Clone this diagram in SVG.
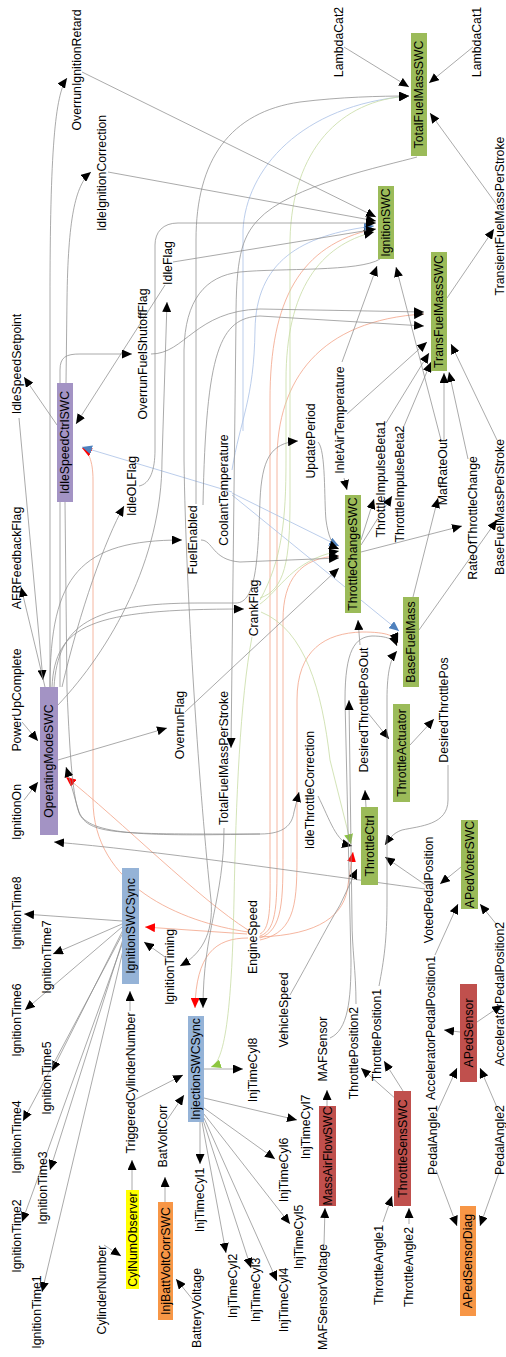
<svg xmlns="http://www.w3.org/2000/svg" width="506" height="1357" viewBox="0 0 506 1357">
<style>
text{font-family:"Liberation Sans",Arial,sans-serif;font-size:12.3px;fill:#000;text-anchor:middle}
.e{fill:none;stroke:#8e8e8e;stroke-width:0.75}
.s{fill:none;stroke:#f2a388;stroke-width:0.8}
.b{fill:none;stroke:#a9c0e6;stroke-width:0.8}
.c{fill:none;stroke:#c8dca4;stroke-width:0.8}
.gr{fill:#9bbb59}.rd{fill:#c0504d}.or{fill:#f79646}.ye{fill:#ffff00}.bl{fill:#95b3d7}.pu{fill:#a393c4}
</style>
<defs>
<marker id="ma" markerUnits="userSpaceOnUse" markerWidth="11" markerHeight="9" refX="10" refY="4.5" orient="auto"><path d="M0,0 L10,4.5 L0,9 z" fill="#000"/></marker>
<marker id="mr" markerUnits="userSpaceOnUse" markerWidth="11" markerHeight="9" refX="10" refY="4.5" orient="auto"><path d="M0,0 L10,4.5 L0,9 z" fill="#ff0000"/></marker>
<marker id="mb" markerUnits="userSpaceOnUse" markerWidth="11" markerHeight="9" refX="10" refY="4.5" orient="auto"><path d="M0,0 L10,4.5 L0,9 z" fill="#4f81bd"/></marker>
<marker id="mg" markerUnits="userSpaceOnUse" markerWidth="11" markerHeight="9" refX="10" refY="4.5" orient="auto"><path d="M0,0 L10,4.5 L0,9 z" fill="#8cc63f"/></marker>
</defs>
<g id="connectors">
<path class="s" marker-end="url(#mr)" d="M247,934 L145,927"/>
<path class="s" marker-end="url(#mr)" d="M248,938 C215,938 196,955 195,1008"/>
<path class="s" marker-end="url(#mr)" d="M248,930 C200,900 120,820 66,777"/>
<path class="s" marker-end="url(#mr)" d="M248,932 C180,922 93,885 93,800 L93,480 C93,460 88,451 82,448"/>
<path class="s" marker-end="url(#mr)" d="M259,937 C320,935 345,915 348,885 L353,852"/>
<path class="s" marker-end="url(#ma)" d="M260,934 C272,928 270,900 270,850 L270,400 C270,300 300,245 374,229"/>
<path class="s" marker-end="url(#ma)" d="M260,936 C278,930 277,900 277,850 L277,460 C277,380 320,320 424,314"/>
<path class="s" marker-end="url(#ma)" d="M260,938 C283,930 283,900 283,850 L283,620 C283,580 300,557 339,556"/>
<path class="s" marker-end="url(#ma)" d="M260,940 C297,932 297,900 297,850 L297,700 C297,650 325,633 362,632 C388,632 395,636 398,643"/>
<path class="b" marker-end="url(#ma)" d="M243,431 L243,230 C246,170 300,105 409,96"/>
<path class="b" marker-end="url(#mb)" d="M232,470 C240,420 254,400 255,330 C256,262 300,235 374,226"/>
<path class="b" marker-end="url(#mb)" d="M232,492 L82,447"/>
<path class="b" marker-end="url(#mb)" d="M232,493 L339,546"/>
<path class="b" marker-end="url(#mb)" d="M232,495 L399,631"/>
<path class="c" marker-end="url(#ma)" d="M260,598 C285,590 290,560 290,500 L290,240 C292,150 340,100 409,96"/>
<path class="c" marker-end="url(#ma)" d="M260,604 C280,590 292,560 339,551"/>
<path class="c" marker-end="url(#ma)" d="M260,600 C282,560 286,520 286,460 L286,380 C286,290 320,245 374,232"/>
<path class="c" marker-end="url(#mg)" d="M261,612 C305,630 322,690 330,760 L351,844"/>
<path class="c" marker-end="url(#mg)" d="M252,637 C240,700 236,800 234,900 C232,1000 226,1062 211,1067"/>
<path class="e" marker-end="url(#ma)" d="M50,687 L50,300 C50,150 55,95 67,78"/>
<path class="e" marker-end="url(#ma)" d="M82,72 L376,217"/>
<path class="e" marker-end="url(#ma)" d="M66,383 L67,300 C68,220 75,185 91,172"/>
<path class="e" marker-end="url(#ma)" d="M108,172 L376,221"/>
<path class="e" marker-end="url(#ma)" d="M344,47 L409,87"/>
<path class="e" marker-end="url(#ma)" d="M473,47 L429,83"/>
<path class="e" marker-end="url(#ma)" d="M497,205 L430,113"/>
<path class="e" marker-end="url(#ma)" d="M196,504 L196,240 C196,160 230,112 300,102 C340,97 380,96 409,96"/>
<path class="e" marker-end="url(#ma)" d="M417,157 C385,166 290,185 258,220 C241,238 236,260 236,320 L231,748"/>
<path class="e" marker-end="url(#ma)" d="M447,298 L494,229"/>
<path class="e" marker-end="url(#ma)" d="M57,425 L24,377"/>
<path class="e" marker-end="url(#ma)" d="M165,285 L76,424"/>
<path class="e" marker-end="url(#ma)" d="M58,705 C110,650 162,560 162,460 L167,302"/>
<path class="e" marker-end="url(#ma)" d="M173,262 L376,229"/>
<path class="e" marker-end="url(#ma)" d="M60,687 L60,370 C60,357 66,354 80,354 L132,354"/>
<path class="e" marker-end="url(#ma)" d="M151,354 C185,354 195,311 260,309 L424,312"/>
<path class="e" marker-end="url(#ma)" d="M62,687 C80,610 105,540 124,506"/>
<path class="e" marker-end="url(#ma)" d="M139,486 C150,484 155,470 155,450 L155,245 C155,232 163,223 178,223 L376,223"/>
<path class="e" marker-end="url(#ma)" d="M50,687 C50,575 80,540 182,540"/>
<path class="e" marker-end="url(#ma)" d="M52,687 C55,625 90,609 244,609"/>
<path class="e" marker-end="url(#ma)" d="M201,540 C213,540 212,560 240,562 L339,558"/>
<path class="e" marker-end="url(#ma)" d="M203,505 C206,350 220,318 260,316 L424,326"/>
<path class="e" marker-end="url(#ma)" d="M54,687 C58,625 90,603 200,603 L236,603 C256,603 258,560 260,500 C262,460 270,443 298,441"/>
<path class="e" marker-end="url(#ma)" d="M318,442 C326,450 324,500 326,520 C328,535 332,546 339,549"/>
<path class="e" marker-end="url(#ma)" d="M344,478 L347,490"/>
<path class="e" marker-end="url(#ma)" d="M342,362 L377,266"/>
<path class="e" marker-end="url(#ma)" d="M347,414 L427,342"/>
<path class="e" marker-end="url(#ma)" d="M361,540 L374,499"/>
<path class="e" marker-end="url(#ma)" d="M361,545 L392,496"/>
<path class="e" marker-end="url(#ma)" d="M386,423 L429,353"/>
<path class="e" marker-end="url(#ma)" d="M404,426 L431,362"/>
<path class="e" marker-end="url(#ma)" d="M361,552 L462,526"/>
<path class="e" marker-end="url(#ma)" d="M413,597 L438,498"/>
<path class="e" marker-end="url(#ma)" d="M419,630 L497,520"/>
<path class="e" marker-end="url(#ma)" d="M441,440 L396,267"/>
<path class="e" marker-end="url(#ma)" d="M444,440 L444,373"/>
<path class="e" marker-end="url(#ma)" d="M468,459 L449,372"/>
<path class="e" marker-end="url(#ma)" d="M497,440 L451,344"/>
<path class="e" marker-end="url(#ma)" d="M185,712 L339,568"/>
<path class="e" marker-end="url(#ma)" d="M58,760 L167,728"/>
<path class="e" marker-end="url(#ma)" d="M360,645 L358,620"/>
<path class="e" marker-end="url(#ma)" d="M368,713 L389,739"/>
<path class="e" marker-end="url(#ma)" d="M366,807 L365,790"/>
<path class="e" marker-end="url(#ma)" d="M410,745 L434,719"/>
<path class="e" marker-end="url(#ma)" d="M448,765 L448,800 C448,825 420,826 402,830 C393,833 389,839 385,845"/>
<path class="e" marker-end="url(#ma)" d="M427,886 L385,857"/>
<path class="e" marker-end="url(#ma)" d="M425,889 C300,872 150,850 54,842"/>
<path class="e" marker-end="url(#ma)" d="M65,502 L67,690 C70,760 73,800 80,815 C92,835 120,834 260,834 C284,834 292,825 294,812 L299,792"/>
<path class="e" marker-end="url(#ma)" d="M260,834 C150,836 88,836 79,812 C74,796 70,780 66,767"/>
<path class="e" marker-end="url(#ma)" d="M318,796 C330,820 336,842 352,846"/>
<path class="e" marker-end="url(#ma)" d="M290,995 C310,960 325,930 340,905 L357,869"/>
<path class="e" marker-end="url(#ma)" d="M461,867 L440,884"/>
<path class="e" marker-end="url(#ma)" d="M19,418 L43,680"/>
<path class="e" marker-end="url(#ma)" d="M45,687 L21,587"/>
<path class="e" marker-end="url(#ma)" d="M22,722 L38,741"/>
<path class="e" marker-end="url(#ma)" d="M24,800 L38,782"/>
<path class="e" marker-end="url(#ma)" d="M380,259 C360,272 280,268 240,272 C205,276 185,300 184,350 L184,460 C186,600 200,800 211,900 C214,935 200,955 180,966"/>
<path class="e" marker-end="url(#ma)" d="M224,828 C224,900 203,930 203,1008"/>
<path class="e" marker-end="url(#ma)" d="M165,957 L144,942"/>
<path class="e" marker-end="url(#ma)" d="M130,1011 L130,991"/>
<path class="e" marker-end="url(#ma)" d="M134,1100 L183,1075"/>
<path class="e" marker-end="url(#ma)" d="M132,1190 L132,1160"/>
<path class="e" marker-end="url(#ma)" d="M104,1245 L121,1256"/>
<path class="e" marker-end="url(#ma)" d="M165,1202 L165,1177"/>
<path class="e" marker-end="url(#ma)" d="M193,1300 L176,1279"/>
<path class="e" marker-end="url(#ma)" d="M167,1120 L184,1095"/>
<path class="e" marker-end="url(#ma)" d="M122,921 L24,914"/>
<path class="e" marker-end="url(#ma)" d="M122,924 L53,954"/>
<path class="e" marker-end="url(#ma)" d="M122,927 L25,1010"/>
<path class="e" marker-end="url(#ma)" d="M123,930 L52,1071"/>
<path class="e" marker-end="url(#ma)" d="M123,933 L23,1121"/>
<path class="e" marker-end="url(#ma)" d="M124,936 L50,1170"/>
<path class="e" marker-end="url(#ma)" d="M124,939 L22,1222"/>
<path class="e" marker-end="url(#ma)" d="M125,942 L42,1292"/>
<path class="e" marker-end="url(#ma)" d="M200,1122 L200,1164"/>
<path class="e" marker-end="url(#ma)" d="M202,1122 L226,1253"/>
<path class="e" marker-end="url(#ma)" d="M203,1120 L251,1268"/>
<path class="e" marker-end="url(#ma)" d="M204,1118 L277,1281"/>
<path class="e" marker-end="url(#ma)" d="M204,1114 L290,1224"/>
<path class="e" marker-end="url(#ma)" d="M204,1108 L275,1159"/>
<path class="e" marker-end="url(#ma)" d="M204,1098 L297,1120"/>
<path class="e" marker-end="url(#ma)" d="M204,1069 L243,1069"/>
<path class="e" marker-end="url(#ma)" d="M324,1245 L325,1208"/>
<path class="e" marker-end="url(#ma)" d="M327,1106 L327,1090"/>
<path class="e" marker-end="url(#ma)" d="M330,1038 C348,1030 351,1000 351,960 L345,700 C345,650 355,637 372,636 C390,636 395,641 397,646"/>
<path class="e" marker-end="url(#ma)" d="M356,1004 C356,970 352,950 352,920 L349,700"/>
<path class="e" marker-end="url(#ma)" d="M379,986 C384,960 387,940 387,900 L387,700 C387,670 391,658 397,651"/>
<path class="e" marker-end="url(#ma)" d="M403,1091 L384,1061"/>
<path class="e" marker-end="url(#ma)" d="M397,1100 L361,1068"/>
<path class="e" marker-end="url(#ma)" d="M383,1222 L392,1196"/>
<path class="e" marker-end="url(#ma)" d="M409,1224 L409,1208"/>
<path class="e" marker-end="url(#ma)" d="M460,1032 L444,1030"/>
<path class="e" marker-end="url(#ma)" d="M477,1022 L502,1005"/>
<path class="e" marker-end="url(#ma)" d="M435,955 L458,904"/>
<path class="e" marker-end="url(#ma)" d="M497,925 L480,904"/>
<path class="e" marker-end="url(#ma)" d="M437,1112 L457,1068"/>
<path class="e" marker-end="url(#ma)" d="M499,1112 L480,1068"/>
<path class="e" marker-end="url(#ma)" d="M436,1170 L457,1226"/>
<path class="e" marker-end="url(#ma)" d="M500,1170 L480,1226"/>
</g>
<g id="n-TotalFuelMassSWC"><rect class="gr" x="411" y="33" width="16" height="123"/><text transform="translate(419,94.5) rotate(-90)" dy="0.35em">TotalFuelMassSWC</text></g>
<g id="n-IgnitionSWC"><rect class="gr" x="378" y="186" width="16" height="73"/><text transform="translate(386,222.5) rotate(-90)" dy="0.35em">IgnitionSWC</text></g>
<g id="n-TransFuelMassSWC"><rect class="gr" x="431" y="252" width="16" height="119"/><text transform="translate(439,311.5) rotate(-90)" dy="0.35em">TransFuelMassSWC</text></g>
<g id="n-ThrottleChangeSWC"><rect class="gr" x="345" y="495" width="16" height="118"/><text transform="translate(353,554) rotate(-90)" dy="0.35em">ThrottleChangeSWC</text></g>
<g id="n-BaseFuelMass"><rect class="gr" x="403" y="597" width="16" height="90"/><text transform="translate(411,642) rotate(-90)" dy="0.35em">BaseFuelMass</text></g>
<g id="n-ThrottleActuator"><rect class="gr" x="393" y="704" width="17" height="98"/><text transform="translate(401.5,753) rotate(-90)" dy="0.35em">ThrottleActuator</text></g>
<g id="n-ThrottleCtrl"><rect class="gr" x="361" y="807" width="17" height="78"/><text transform="translate(369.5,846) rotate(-90)" dy="0.35em">ThrottleCtrl</text></g>
<g id="n-APedVoterSWC"><rect class="gr" x="461" y="820" width="17" height="89"/><text transform="translate(469.5,864.5) rotate(-90)" dy="0.35em">APedVoterSWC</text></g>
<g id="n-APedSensor"><rect class="rd" x="460" y="984" width="17" height="98"/><text transform="translate(468.5,1033) rotate(-90)" dy="0.35em">APedSensor</text></g>
<g id="n-ThrottleSensSWC"><rect class="rd" x="394" y="1091" width="17" height="115"/><text transform="translate(402.5,1148.5) rotate(-90)" dy="0.35em">ThrottleSensSWC</text></g>
<g id="n-MassAirFlowSWC"><rect class="rd" x="319" y="1106" width="17" height="100"/><text transform="translate(327.5,1156) rotate(-90)" dy="0.35em">MassAirFlowSWC</text></g>
<g id="n-APedSensorDiag"><rect class="or" x="460" y="1206" width="16" height="110"/><text transform="translate(468,1261) rotate(-90)" dy="0.35em">APedSensorDiag</text></g>
<g id="n-InjBattVoltCorrSWC"><rect class="or" x="158" y="1202" width="15" height="118"/><text transform="translate(165.5,1261) rotate(-90)" dy="0.35em">InjBattVoltCorrSWC</text></g>
<g id="n-CylNumObserver"><rect class="ye" x="126" y="1190" width="13" height="99"/><text transform="translate(132.5,1239.5) rotate(-90)" dy="0.35em">CylNumObserver</text></g>
<g id="n-InjectionSWCSync"><rect class="bl" x="188" y="1016" width="16" height="106"/><text transform="translate(196,1069) rotate(-90)" dy="0.35em">InjectionSWCSync</text></g>
<g id="n-IgnitionSWCSync"><rect class="bl" x="122" y="868" width="17" height="116"/><text transform="translate(130.5,926) rotate(-90)" dy="0.35em">IgnitionSWCSync</text></g>
<g id="n-OperatingModeSWC"><rect class="pu" x="40" y="687" width="18" height="148"/><text transform="translate(49,761) rotate(-90)" dy="0.35em">OperatingModeSWC</text></g>
<g id="n-IdleSpeedCtrlSWC"><rect class="pu" x="57" y="383" width="16" height="119"/><text transform="translate(65,442.5) rotate(-90)" dy="0.35em">IdleSpeedCtrlSWC</text></g>
<g id="labels">
<text transform="translate(77,70) rotate(-90)" dy="0.35em">OverrunIgnitionRetard</text>
<text transform="translate(102,173) rotate(-90)" dy="0.35em">IdleIgnitionCorrection</text>
<text transform="translate(339,42) rotate(-90)" dy="0.35em">LambdaCat2</text>
<text transform="translate(477,42) rotate(-90)" dy="0.35em">LambdaCat1</text>
<text transform="translate(500,216) rotate(-90)" dy="0.35em">TransientFuelMassPerStroke</text>
<text transform="translate(17,364) rotate(-90)" dy="0.35em">IdleSpeedSetpoint</text>
<text transform="translate(143,354) rotate(-90)" dy="0.35em">OverrunFuelShutoffFlag</text>
<text transform="translate(168,263) rotate(-90)" dy="0.35em">IdleFlag</text>
<text transform="translate(132,486) rotate(-90)" dy="0.35em">IdleOLFlag</text>
<text transform="translate(17,558) rotate(-90)" dy="0.35em">AFRFeedbackFlag</text>
<text transform="translate(193,540) rotate(-90)" dy="0.35em">FuelEnabled</text>
<text transform="translate(224,490) rotate(-90)" dy="0.35em">CoolantTemperature</text>
<text transform="translate(254,608) rotate(-90)" dy="0.35em">CrankFlag</text>
<text transform="translate(17,700) rotate(-90)" dy="0.35em">PowerUpComplete</text>
<text transform="translate(17,812) rotate(-90)" dy="0.35em">IgnitionOn</text>
<text transform="translate(180,725) rotate(-90)" dy="0.35em">OverrunFlag</text>
<text transform="translate(224,758) rotate(-90)" dy="0.35em">TotalFuelMassPerStroke</text>
<text transform="translate(311,441) rotate(-90)" dy="0.35em">UpdatePeriod</text>
<text transform="translate(340,420) rotate(-90)" dy="0.35em">InletAirTemperature</text>
<text transform="translate(381,479) rotate(-90)" dy="0.35em">ThrottleImpulseBeta1</text>
<text transform="translate(400,484) rotate(-90)" dy="0.35em">ThrottleImpulseBeta2</text>
<text transform="translate(443,472) rotate(-90)" dy="0.35em">MafRateOut</text>
<text transform="translate(473,518) rotate(-90)" dy="0.35em">RateOfThrottleChange</text>
<text transform="translate(500,507) rotate(-90)" dy="0.35em">BaseFuelMassPerStroke</text>
<text transform="translate(364,710) rotate(-90)" dy="0.35em">DesiredThrottlePosOut</text>
<text transform="translate(444,710) rotate(-90)" dy="0.35em">DesiredThrottlePos</text>
<text transform="translate(310,790) rotate(-90)" dy="0.35em">IdleThrottleCorrection</text>
<text transform="translate(429,890) rotate(-90)" dy="0.35em">VotedPedalPosition</text>
<text transform="translate(17,913) rotate(-90)" dy="0.35em">IgnitionTime8</text>
<text transform="translate(47,957) rotate(-90)" dy="0.35em">IgnitionTime7</text>
<text transform="translate(17,1020) rotate(-90)" dy="0.35em">IgnitionTime6</text>
<text transform="translate(47,1078) rotate(-90)" dy="0.35em">IgnitionTime5</text>
<text transform="translate(17,1137) rotate(-90)" dy="0.35em">IgnitionTime4</text>
<text transform="translate(43,1188) rotate(-90)" dy="0.35em">IgnitionTime3</text>
<text transform="translate(17,1236) rotate(-90)" dy="0.35em">IgnitionTime2</text>
<text transform="translate(37,1312) rotate(-90)" dy="0.35em">IgnitionTime1</text>
<text transform="translate(102,1290) rotate(-90)" dy="0.35em">CylinderNumber</text>
<text transform="translate(131,1083) rotate(-90)" dy="0.35em">TriggeredCylinderNumber</text>
<text transform="translate(163,1136) rotate(-90)" dy="0.35em">BatVoltCorr</text>
<text transform="translate(197,1308) rotate(-90)" dy="0.35em">BatteryVoltage</text>
<text transform="translate(200,1200) rotate(-90)" dy="0.35em">InjTimeCyl1</text>
<text transform="translate(233,1286) rotate(-90)" dy="0.35em">InjTimeCyl2</text>
<text transform="translate(256,1290) rotate(-90)" dy="0.35em">InjTimeCyl3</text>
<text transform="translate(284,1300) rotate(-90)" dy="0.35em">InjTimeCyl4</text>
<text transform="translate(299,1237) rotate(-90)" dy="0.35em">InjTimeCyl5</text>
<text transform="translate(284,1170) rotate(-90)" dy="0.35em">InjTimeCyl6</text>
<text transform="translate(306,1127) rotate(-90)" dy="0.35em">InjTimeCyl7</text>
<text transform="translate(253,1070) rotate(-90)" dy="0.35em">InjTimeCyl8</text>
<text transform="translate(323,1049) rotate(-90)" dy="0.35em">MAFSensor</text>
<text transform="translate(323,1297) rotate(-90)" dy="0.35em">MAFSensorVoltage</text>
<text transform="translate(284,1010) rotate(-90)" dy="0.35em">VehicleSpeed</text>
<text transform="translate(253,937) rotate(-90)" dy="0.35em">EngineSpeed</text>
<text transform="translate(170,967) rotate(-90)" dy="0.35em">IgnitionTiming</text>
<text transform="translate(354,1053) rotate(-90)" dy="0.35em">ThrottlePosition2</text>
<text transform="translate(377,1035) rotate(-90)" dy="0.35em">ThrottlePosition1</text>
<text transform="translate(431,1028) rotate(-90)" dy="0.35em">AcceleratorPedalPosition1</text>
<text transform="translate(500,994) rotate(-90)" dy="0.35em">AcceleratorPedalPosition2</text>
<text transform="translate(433,1140) rotate(-90)" dy="0.35em">PedalAngle1</text>
<text transform="translate(500,1140) rotate(-90)" dy="0.35em">PedalAngle2</text>
<text transform="translate(379,1265) rotate(-90)" dy="0.35em">ThrottleAngle1</text>
<text transform="translate(409,1267) rotate(-90)" dy="0.35em">ThrottleAngle2</text>
</g>
</svg>
